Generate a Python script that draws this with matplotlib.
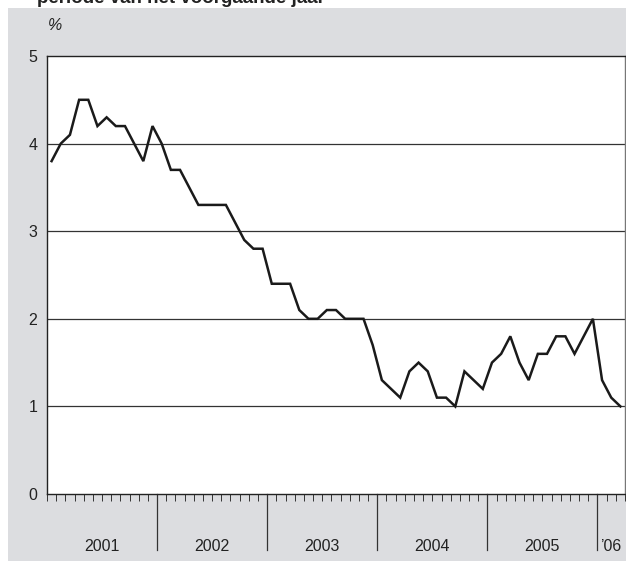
import matplotlib
matplotlib.use("Agg")
import matplotlib.pyplot as plt
import numpy as np

plt.rcParams["font.family"] = ["Liberation Sans", "DejaVu Sans"]

values = [3.8, 4.0, 4.1, 4.5, 4.5, 4.2, 4.3, 4.2, 4.2, 4.0, 3.8, 4.2,
          4.0, 3.7, 3.7, 3.5, 3.3, 3.3, 3.3, 3.3, 3.1, 2.9, 2.8, 2.8,
          2.4, 2.4, 2.4, 2.1, 2.0, 2.0, 2.1, 2.1, 2.0, 2.0, 2.0, 1.7,
          1.3, 1.2, 1.1, 1.4, 1.5, 1.4, 1.1, 1.1, 1.0, 1.4, 1.3, 1.2,
          1.5, 1.6, 1.8, 1.5, 1.3, 1.6, 1.6, 1.8, 1.8, 1.6, 1.8, 2.0,
          1.3, 1.1, 1.0]
year_labels = ["2001", "2002", "2003", "2004", "2005", "\u201906"]
year_months = [12, 12, 12, 12, 12, 3]
yticks = [0, 1, 2, 3, 4, 5]

W, H = 626, 561
fig = plt.figure(figsize=(W/100, H/100), dpi=100)
fig.patch.set_facecolor("white")
bg = "#dcdde0"
fig.add_artist(plt.Rectangle((8/W, 0), 1 - 8/W, 1 - 8/H, transform=fig.transFigure,
                             facecolor=bg, edgecolor="none", zorder=-10))

ax = fig.add_axes([47/W, 1 - 494/H, 578/W, (494 - 56)/H])
ax.set_facecolor("white")
n = len(values)
x = np.arange(n) + 0.5
ax.plot(x, values, color="#1a1a1a", lw=1.8, solid_joinstyle="miter", zorder=3)
ax.set_xlim(0, n)
ax.set_ylim(0, 5)
ax.set_yticks(yticks)
ax.set_yticklabels([str(t) for t in yticks], fontsize=11.5, color="#222222")
ax.tick_params(axis="y", length=0, pad=7)
for t in yticks[1:-1]:
    ax.axhline(t, color="#333333", lw=0.9, zorder=1)
for s in ax.spines.values():
    s.set_color("#222222")
    s.set_linewidth(1.0)
ax.spines["right"].set_color("#777777")

ax.set_xticks(np.arange(0, n + 1), minor=True)
ax.set_xticks([])
ax.tick_params(axis="x", which="minor", direction="out", length=5, width=0.7, color="#333333")

bounds = np.concatenate([[0], np.cumsum(year_months)])
for b in bounds[1:-1]:
    ax.plot([b, b], [0, -0.64], color="#333333", lw=0.9, clip_on=False)
for i, lab in enumerate(year_labels):
    c = (bounds[i] + bounds[i + 1]) / 2
    if i == len(year_labels) - 1:
        c = bounds[i] + 1.4
    ax.text(c, -0.6, lab, ha="center", va="center", fontsize=11.5, color="#222222")

fig.text(55/W, 1 - 25/H, "%", fontsize=11.5, style="italic", color="#222222",
         ha="center", va="center")
fig.text(37/W, 1 - 3/H, "periode van het voorgaande jaar", fontsize=13.5,
         fontweight="bold", color="#222222", ha="left", va="baseline")

fig.savefig("out.png", dpi=100, facecolor=fig.get_facecolor())
